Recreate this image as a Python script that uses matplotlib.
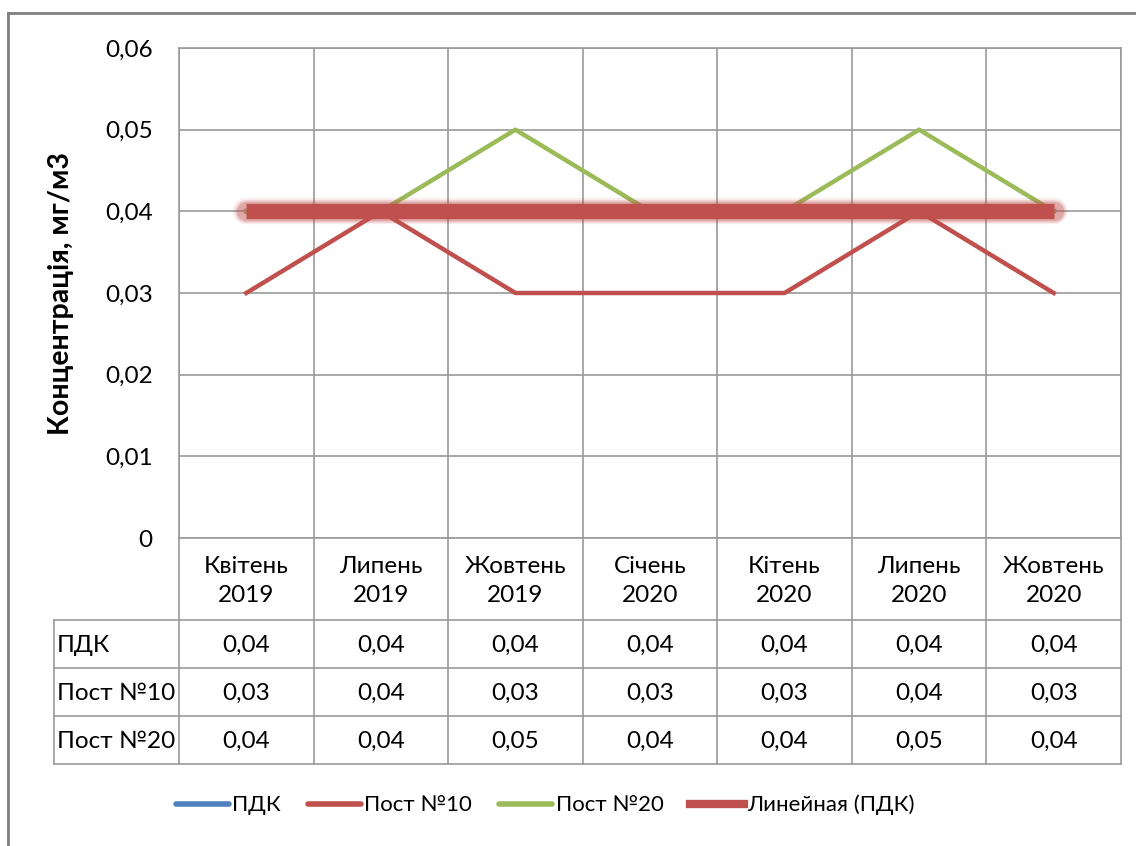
import numpy as np
import matplotlib.pyplot as plt
import matplotlib.transforms as mtransforms
from matplotlib.lines import Line2D

plt.rcParams['font.family'] = ['Lato', 'Open Sans', 'DejaVu Sans']

months = ['Квітень\n2019', 'Липень\n2019', 'Жовтень\n2019', 'Січень\n2020',
          'Кітень\n2020', 'Липень\n2020', 'Жовтень\n2020']
pdk = [0.04, 0.04, 0.04, 0.04, 0.04, 0.04, 0.04]
post10 = [0.03, 0.04, 0.03, 0.03, 0.03, 0.04, 0.03]
post20 = [0.04, 0.04, 0.05, 0.04, 0.04, 0.05, 0.04]
row_names = ['ПДК', 'Пост №10', 'Пост №20']
y_ticks = [0, 0.01, 0.02, 0.03, 0.04, 0.05, 0.06]

BLUE = '#4f81bd'
RED = '#c0504d'
GREEN = '#9bbb59'
GRID = '#9a9a9a'
W, H = 1136, 846
FS = 17.5


def fy(py):
    return 1 - py / H


def main():
    fig = plt.figure(figsize=(W / 100, H / 100), dpi=100)
    ax = fig.add_axes([179 / W, fy(538), 942 / W, 490 / H])

    x = np.arange(len(months))
    ax.plot(x, pdk, color=BLUE, lw=3.2, zorder=3)
    ax.plot(x, post10, color=RED, lw=3.2, zorder=3)
    ax.plot(x, post20, color=GREEN, lw=3.2, zorder=3)

    # trendline with soft glow
    coef = np.polyfit(x, pdk, 1)
    trend = np.polyval(coef, x)
    for lw, a in [(19, 0.1), (16.5, 0.18), (14, 0.3)]:
        ax.plot(x, trend, color=RED, lw=lw, alpha=a, solid_capstyle='round', zorder=4)
    ax.plot(x, trend, color=RED, lw=11, solid_capstyle='butt', zorder=5)

    ax.set_xlim(-0.5, len(months) - 0.5)
    ax.set_ylim(0, 0.06)
    ax.set_xticks(np.arange(len(months) + 1) - 0.5)
    ax.set_xticklabels([])
    ax.set_yticks(y_ticks)
    ax.set_yticklabels([('%g' % v).replace('.', ',') for v in y_ticks], fontsize=FS)
    ax.tick_params(length=0, pad=19)
    ax.grid(True, color=GRID, lw=1.2)
    ax.set_axisbelow(True)
    for s in ax.spines.values():
        s.set_color(GRID)
        s.set_linewidth(1.2)
    ax.set_ylabel('Концентрація, мг/м3', fontsize=20.5, fontweight='bold')
    ax.yaxis.set_label_coords(-(179 - 61) / 942, 0.5)
    ax.yaxis.label.set_va('center')

    # data table under the axes
    tr = mtransforms.blended_transform_factory(ax.transData, fig.transFigure)
    edges = np.arange(len(months) + 1) - 0.5
    for e in edges:
        fig.add_artist(Line2D([e, e], [fy(538), fy(764)], transform=tr,
                              color=GRID, lw=1.2))
    fig.add_artist(Line2D([54 / W, 54 / W], [fy(620), fy(764)], color=GRID, lw=1.2))
    for py in [620, 668, 716, 764]:
        fig.add_artist(Line2D([54 / W, 1121 / W], [fy(py), fy(py)], color=GRID, lw=1.2))

    for i, m in enumerate(months):
        fig.text(i, fy(581), m, transform=tr, ha='center', va='center',
                 fontsize=FS, linespacing=1.5)
    rows = [pdk, post10, post20]
    for r, (name, vals) in enumerate(zip(row_names, rows)):
        yc = fy(645 + 48 * r)
        fig.text(57 / W, yc, name, ha='left', va='center', fontsize=FS)
        for i, v in enumerate(vals):
            fig.text(i, yc, ('%g' % v).replace('.', ','), transform=tr,
                     ha='center', va='center', fontsize=FS)

    # outer frame (left and top edges)
    fig.add_artist(Line2D([8 / W, 8 / W], [fy(13), 0], color='#808080', lw=2))
    fig.add_artist(Line2D([8 / W, 1], [fy(13), fy(13)], color='#808080', lw=2))

    handles = [Line2D([], [], color=BLUE, lw=4, solid_capstyle='round'),
               Line2D([], [], color=RED, lw=4, solid_capstyle='round'),
               Line2D([], [], color=GREEN, lw=4, solid_capstyle='round'),
               Line2D([], [], color=RED, lw=6)]
    labels = ['ПДК', 'Пост №10', 'Пост №20', 'Линейная (ПДК)']
    fig.legend(handles, labels, loc='center', bbox_to_anchor=(545 / W, fy(805)),
               ncol=4, frameon=False, fontsize=16, handlelength=2.4,
               handletextpad=0.15, columnspacing=1.2)

    fig.savefig('out.png', dpi=100)


if __name__ == "__main__":
    main()
